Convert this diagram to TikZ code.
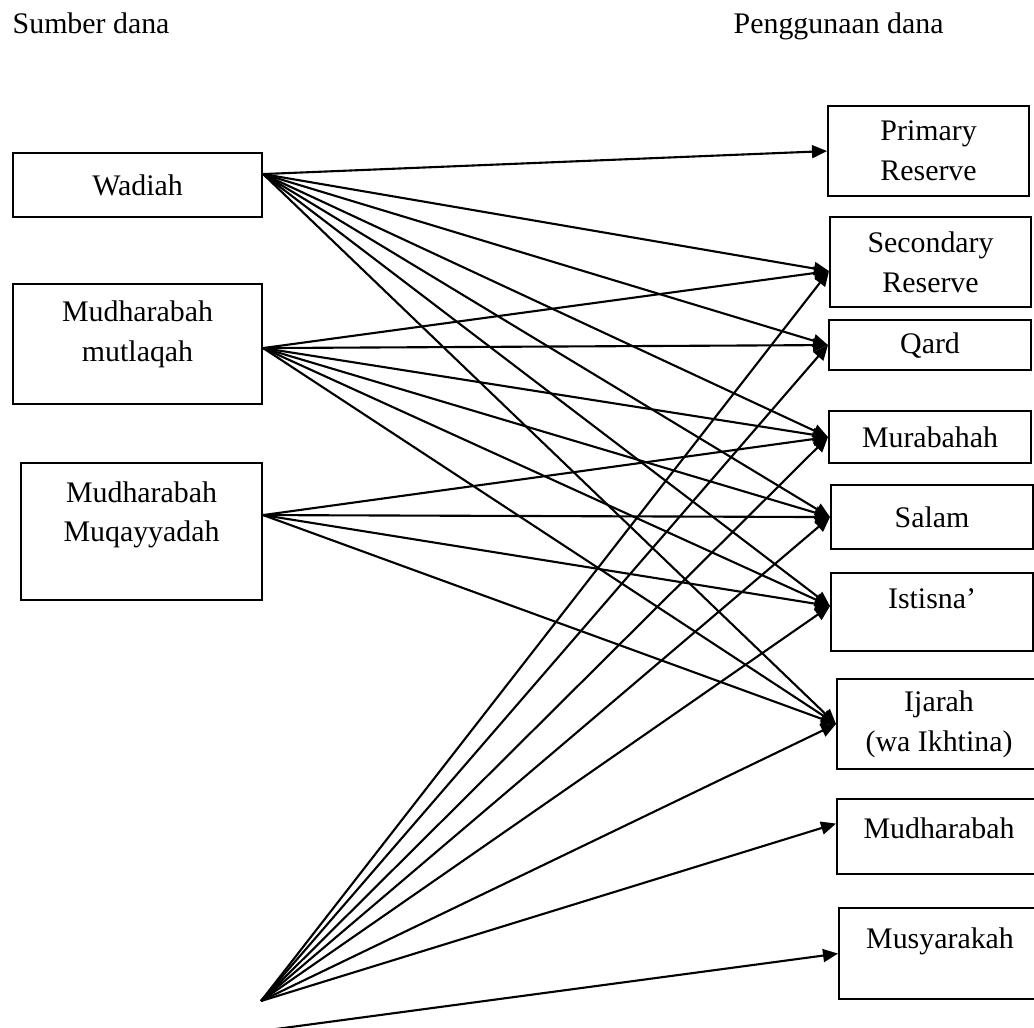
\documentclass[tikz,border=0pt]{standalone}
\usepackage{fontspec}
\setmainfont{Liberation Serif}
\usetikzlibrary{arrows.meta,positioning}

\tikzset{
  box/.style={draw, line width=0.6pt, anchor=north west, align=center, inner sep=0pt},
  link/.style={draw, line width=0.6pt, -{Triangle[length=1.5mm,width=1.3mm]}},
}

\begin{document}
\begin{tikzpicture}[x=1cm, y=-1cm, font={\fontsize{8.5pt}{11.3pt}\selectfont}]
\path[use as bounding box] (0,0) rectangle (10.34,10.27);
\clip (0,0) rectangle (10.34,10.27);

% judul
\node[anchor=base west, inner sep=0pt] (sumber) at (0.12,0.33) {Sumber dana};
\node[anchor=base west, inner sep=0pt] (guna) at (7.33,0.33) {Penggunaan dana};

% sumber dana
\node[box, minimum width=2.49cm, minimum height=0.64cm] (wadiah) at (0.12,1.52) {Wadiah};
\node[box, minimum width=2.49cm, minimum height=1.20cm] (mutlaqah) at (0.12,2.83) {Mudharabah\\mutlaqah\\[-0.135cm]~};
\node[box, minimum width=2.41cm, minimum height=1.37cm] (muqayyadah) at (0.20,4.62) {Mudharabah\\Muqayyadah\\~};

% penggunaan dana
\node[box, minimum width=2.01cm, minimum height=0.90cm] (primary) at (8.27,1.05) {Primary\\Reserve};
\node[box, minimum width=2.01cm, minimum height=0.90cm] (secondary) at (8.29,2.16) {Secondary\\Reserve};
\node[box, minimum width=2.02cm, minimum height=0.50cm] (qard) at (8.28,3.19) {Qard};
\node[box, minimum width=2.02cm, minimum height=0.52cm] (murabahah) at (8.28,4.10) {Murabahah};
\node[box, minimum width=2.02cm, minimum height=0.64cm] (salam) at (8.30,4.84) {Salam};
\node[box, minimum width=2.02cm, minimum height=0.78cm] (istisna) at (8.30,5.72) {Istisna'\\[-0.135cm]~};
\node[box, minimum width=2.04cm, minimum height=0.90cm] (ijarah) at (8.36,6.78) {Ijarah\\(wa Ikhtina)};
\node[box, minimum width=2.04cm, minimum height=0.75cm] (mudharabah) at (8.36,7.98) {Mudharabah\\[-0.225cm]~};
\node[box, minimum width=2.02cm, minimum height=0.91cm] (musyarakah) at (8.38,9.07) {Musyarakah\\[-0.085cm]~};

% titik keluar / masuk
\coordinate (w) at ([yshift=0.11cm]wadiah.east);
\coordinate (mu) at ([yshift=-0.04cm]mutlaqah.east);
\coordinate (mq) at ([yshift=0.165cm]muqayyadah.east);
\coordinate (fan) at (2.61,10.01);
\coordinate (lain) at (2.61,10.31);
\coordinate (secondary-in) at ([yshift=-0.09cm]secondary.west);
\coordinate (istisna-in) at ([yshift=0.06cm]istisna.west);
\coordinate (mudharabah-in) at ([yshift=0.13cm]mudharabah.west);

\path (w) edge[link] (primary.west) edge[link] (secondary-in) edge[link] (qard.west)
  edge[link] (murabahah.west) edge[link] (salam.west) edge[link] (istisna-in) edge[link] (ijarah.west);
\path (mu) edge[link] (secondary-in) edge[link] (qard.west) edge[link] (murabahah.west)
  edge[link] (salam.west) edge[link] (istisna-in) edge[link] (ijarah.west);
\path (mq) edge[link] (murabahah.west) edge[link] (salam.west) edge[link] (istisna-in) edge[link] (ijarah.west);
\path (fan) edge[link] (secondary-in) edge[link] (qard.west) edge[link] (murabahah.west)
  edge[link] (salam.west) edge[link] (istisna-in) edge[link] (ijarah.west) edge[link] (mudharabah-in);
\draw[link] (lain) -- (musyarakah.west);

\end{tikzpicture}
\end{document}
